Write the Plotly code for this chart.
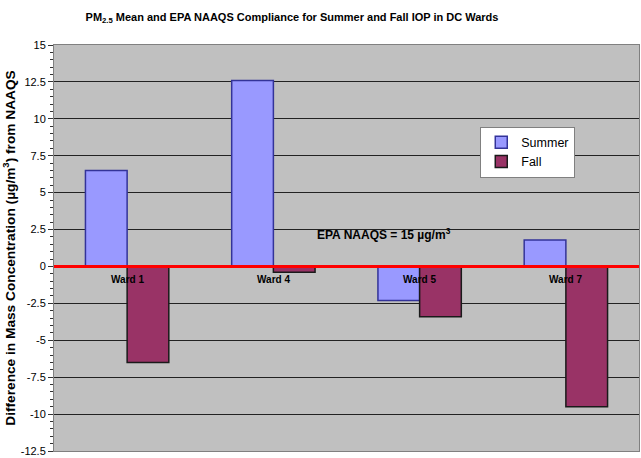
import plotly.graph_objects as go

wards = ["Ward 1", "Ward 4", "Ward 5", "Ward 7"]
summer = [6.5, 12.6, -2.3, 1.8]
fall = [-6.5, -0.4, -3.4, -9.5]
y_ticks = [15, 12.5, 10, 7.5, 5, 2.5, 0, -2.5, -5, -7.5, -10, -12.5]

FONT = "Liberation Sans, Arial, sans-serif"
L, R, T, B = 54, 640, 45, 453
PW, PH = R - L, B - T

fig = go.Figure()
fig.add_trace(go.Bar(x=wards, y=summer, name="Summer",
                     marker=dict(color="#9999FF", line=dict(color="#333399", width=1.5))))
fig.add_trace(go.Bar(x=wards, y=fall, name="Fall",
                     marker=dict(color="#993366", line=dict(color="#1a1a1a", width=1.5))))

# red NAAQS zero line
fig.add_shape(type="line", xref="paper", yref="y", x0=0, x1=1, y0=0, y1=0,
              line=dict(color="#FF0000", width=3), layer="above")

# ward labels just below the zero line
for w in wards:
    fig.add_annotation(x=w, y=0, xref="x", yref="y", text="<b>" + w + "</b>",
                       showarrow=False, yanchor="top", yshift=-6,
                       font=dict(family=FONT, size=10, color="black"))

fig.add_annotation(x=(385 - L) / PW, y=2.2, xref="x domain", yref="y",
                   text="<b>EPA NAAQS = 15 µg/m<sup>3</sup></b>", showarrow=False,
                   font=dict(family=FONT, size=12, color="black"))

fig.update_layout(
    width=641, height=458,
    margin=dict(l=L, r=641 - R, t=T, b=458 - B),
    paper_bgcolor="white", plot_bgcolor="#C0C0C0",
    barmode="group", bargap=0.43, bargroupgap=0,
    title=dict(text="<b>PM<sub>2.5</sub> Mean and EPA NAAQS Compliance for Summer and Fall IOP in DC Wards</b>",
               x=292 / 641, xanchor="center", y=1 - 17 / 458, yanchor="middle",
               font=dict(family=FONT, size=11, color="black")),
    legend=dict(x=(481 - L) / PW, y=1 - (127 - T) / PH, xref="paper", yref="paper",
                xanchor="left", yanchor="top", bgcolor="white",
                bordercolor="#808080", borderwidth=1,
                font=dict(family=FONT, size=12.5, color="black"),
                itemwidth=30, tracegroupgap=0),
    showlegend=True,
)
fig.update_xaxes(showticklabels=False, showgrid=False, zeroline=False,
                 showline=True, linecolor="#808080", mirror=True)
fig.update_yaxes(range=[-12.5, 15], tickvals=y_ticks,
                 ticktext=[("%g" % v) for v in y_ticks],
                 ticklabeloverflow="allow",
                 showgrid=True, gridcolor="#222222", gridwidth=1,
                 zeroline=False, showline=True, linecolor="#808080", mirror=True,
                 ticks="outside", ticklen=5, tickcolor="#333333",
                 minor=dict(dtick=0.5, ticks="outside", ticklen=3, tickcolor="#333333", showgrid=False),
                 tickfont=dict(family=FONT, size=11, color="black"),
                 title=dict(text="<b>Difference in Mass Concentration (µg/m<sup>3</sup>) from NAAQS</b>",
                            font=dict(family=FONT, size=13.7, color="black"), standoff=5))

fig.write_html("out.html", config={"displayModeBar": False},
               post_script="document.body.style.margin='0';")
